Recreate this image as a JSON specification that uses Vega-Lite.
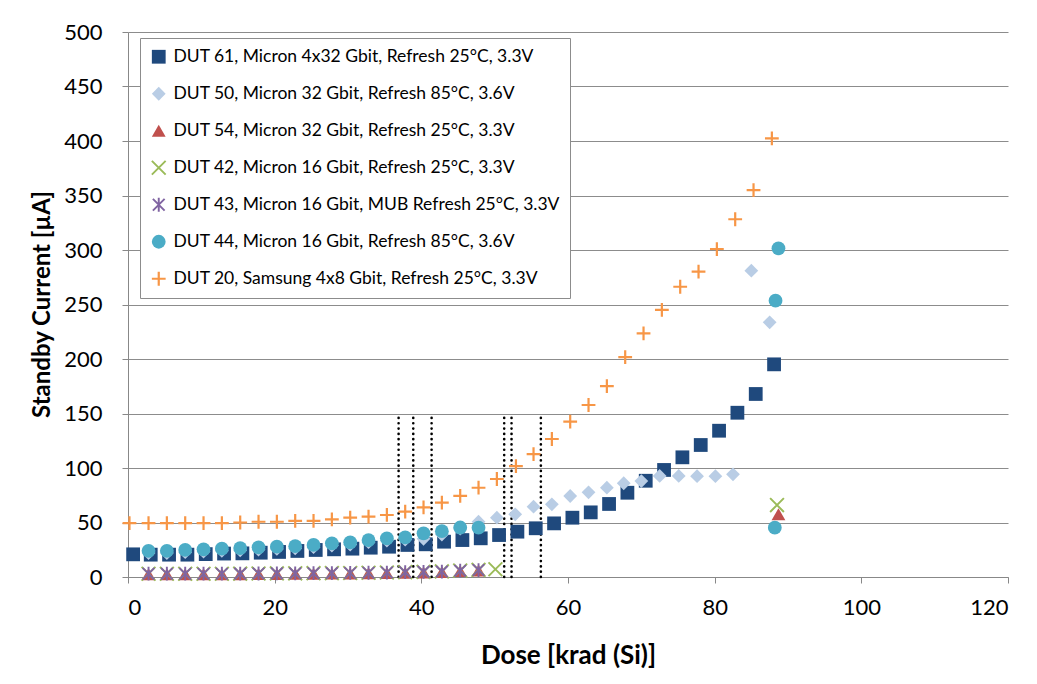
{
  "$schema": "https://vega.github.io/schema/vega-lite/v6.json",
  "width": 880,
  "height": 545,
  "autosize": {"type": "none"},
  "padding": {"left": 128, "top": 32, "right": 29, "bottom": 107},
  "background": "white",
  "config": {
    "view": {"stroke": null},
    "font": "Lato",
    "axis": {"labelFont": "Lato", "titleFont": "Lato", "labelColor": "#000", "titleColor": "#000"}
  },
  "datasets": {
    "pts": [
      {"s":"DUT 61, Micron 4x32 Gbit, Refresh 25°C, 3.3V","x":0.7,"y":20.8},
      {"s":"DUT 61, Micron 4x32 Gbit, Refresh 25°C, 3.3V","x":3.1,"y":20.5},
      {"s":"DUT 61, Micron 4x32 Gbit, Refresh 25°C, 3.3V","x":5.6,"y":20.5},
      {"s":"DUT 61, Micron 4x32 Gbit, Refresh 25°C, 3.3V","x":8.1,"y":20.5},
      {"s":"DUT 61, Micron 4x32 Gbit, Refresh 25°C, 3.3V","x":10.6,"y":21},
      {"s":"DUT 61, Micron 4x32 Gbit, Refresh 25°C, 3.3V","x":13.1,"y":21.5},
      {"s":"DUT 61, Micron 4x32 Gbit, Refresh 25°C, 3.3V","x":15.6,"y":21.7},
      {"s":"DUT 61, Micron 4x32 Gbit, Refresh 25°C, 3.3V","x":18.1,"y":22.3},
      {"s":"DUT 61, Micron 4x32 Gbit, Refresh 25°C, 3.3V","x":20.6,"y":23},
      {"s":"DUT 61, Micron 4x32 Gbit, Refresh 25°C, 3.3V","x":23.1,"y":23.9},
      {"s":"DUT 61, Micron 4x32 Gbit, Refresh 25°C, 3.3V","x":25.6,"y":24.8},
      {"s":"DUT 61, Micron 4x32 Gbit, Refresh 25°C, 3.3V","x":28.1,"y":25.4},
      {"s":"DUT 61, Micron 4x32 Gbit, Refresh 25°C, 3.3V","x":30.6,"y":26},
      {"s":"DUT 61, Micron 4x32 Gbit, Refresh 25°C, 3.3V","x":33.1,"y":26.9},
      {"s":"DUT 61, Micron 4x32 Gbit, Refresh 25°C, 3.3V","x":35.6,"y":27.8},
      {"s":"DUT 61, Micron 4x32 Gbit, Refresh 25°C, 3.3V","x":38.1,"y":29.4},
      {"s":"DUT 61, Micron 4x32 Gbit, Refresh 25°C, 3.3V","x":40.6,"y":30},
      {"s":"DUT 61, Micron 4x32 Gbit, Refresh 25°C, 3.3V","x":43.1,"y":32.4},
      {"s":"DUT 61, Micron 4x32 Gbit, Refresh 25°C, 3.3V","x":45.6,"y":33.9},
      {"s":"DUT 61, Micron 4x32 Gbit, Refresh 25°C, 3.3V","x":48.1,"y":35.5},
      {"s":"DUT 61, Micron 4x32 Gbit, Refresh 25°C, 3.3V","x":50.6,"y":38.5},
      {"s":"DUT 61, Micron 4x32 Gbit, Refresh 25°C, 3.3V","x":53.1,"y":41.6},
      {"s":"DUT 61, Micron 4x32 Gbit, Refresh 25°C, 3.3V","x":55.6,"y":44.7},
      {"s":"DUT 61, Micron 4x32 Gbit, Refresh 25°C, 3.3V","x":58.1,"y":49.2},
      {"s":"DUT 61, Micron 4x32 Gbit, Refresh 25°C, 3.3V","x":60.6,"y":54.4},
      {"s":"DUT 61, Micron 4x32 Gbit, Refresh 25°C, 3.3V","x":63.1,"y":59.3},
      {"s":"DUT 61, Micron 4x32 Gbit, Refresh 25°C, 3.3V","x":65.6,"y":67},
      {"s":"DUT 61, Micron 4x32 Gbit, Refresh 25°C, 3.3V","x":68.1,"y":77.3},
      {"s":"DUT 61, Micron 4x32 Gbit, Refresh 25°C, 3.3V","x":70.6,"y":88.3},
      {"s":"DUT 61, Micron 4x32 Gbit, Refresh 25°C, 3.3V","x":73.1,"y":98.2},
      {"s":"DUT 61, Micron 4x32 Gbit, Refresh 25°C, 3.3V","x":75.6,"y":109.8},
      {"s":"DUT 61, Micron 4x32 Gbit, Refresh 25°C, 3.3V","x":78.1,"y":121.1},
      {"s":"DUT 61, Micron 4x32 Gbit, Refresh 25°C, 3.3V","x":80.6,"y":134.2},
      {"s":"DUT 61, Micron 4x32 Gbit, Refresh 25°C, 3.3V","x":83.1,"y":150.7},
      {"s":"DUT 61, Micron 4x32 Gbit, Refresh 25°C, 3.3V","x":85.6,"y":167.9},
      {"s":"DUT 61, Micron 4x32 Gbit, Refresh 25°C, 3.3V","x":88.1,"y":195.1},

      {"s":"DUT 50, Micron 32 Gbit, Refresh 85°C, 3.6V","x":2.8,"y":22},
      {"s":"DUT 50, Micron 32 Gbit, Refresh 85°C, 3.6V","x":5.3,"y":22},
      {"s":"DUT 50, Micron 32 Gbit, Refresh 85°C, 3.6V","x":7.8,"y":22.8},
      {"s":"DUT 50, Micron 32 Gbit, Refresh 85°C, 3.6V","x":10.3,"y":23.4},
      {"s":"DUT 50, Micron 32 Gbit, Refresh 85°C, 3.6V","x":12.8,"y":24},
      {"s":"DUT 50, Micron 32 Gbit, Refresh 85°C, 3.6V","x":15.3,"y":24.5},
      {"s":"DUT 50, Micron 32 Gbit, Refresh 85°C, 3.6V","x":17.8,"y":25.2},
      {"s":"DUT 50, Micron 32 Gbit, Refresh 85°C, 3.6V","x":20.3,"y":25.8},
      {"s":"DUT 50, Micron 32 Gbit, Refresh 85°C, 3.6V","x":22.8,"y":26.3},
      {"s":"DUT 50, Micron 32 Gbit, Refresh 85°C, 3.6V","x":25.3,"y":27.4},
      {"s":"DUT 50, Micron 32 Gbit, Refresh 85°C, 3.6V","x":27.8,"y":28.9},
      {"s":"DUT 50, Micron 32 Gbit, Refresh 85°C, 3.6V","x":30.3,"y":29.8},
      {"s":"DUT 50, Micron 32 Gbit, Refresh 85°C, 3.6V","x":32.8,"y":31.9},
      {"s":"DUT 50, Micron 32 Gbit, Refresh 85°C, 3.6V","x":35.3,"y":33.5},
      {"s":"DUT 50, Micron 32 Gbit, Refresh 85°C, 3.6V","x":37.8,"y":34.4},
      {"s":"DUT 50, Micron 32 Gbit, Refresh 85°C, 3.6V","x":40.3,"y":35},
      {"s":"DUT 50, Micron 32 Gbit, Refresh 85°C, 3.6V","x":42.8,"y":39},
      {"s":"DUT 50, Micron 32 Gbit, Refresh 85°C, 3.6V","x":45.3,"y":44.5},
      {"s":"DUT 50, Micron 32 Gbit, Refresh 85°C, 3.6V","x":47.8,"y":50.7},
      {"s":"DUT 50, Micron 32 Gbit, Refresh 85°C, 3.6V","x":50.3,"y":54.4},
      {"s":"DUT 50, Micron 32 Gbit, Refresh 85°C, 3.6V","x":52.8,"y":57.5},
      {"s":"DUT 50, Micron 32 Gbit, Refresh 85°C, 3.6V","x":55.3,"y":64.5},
      {"s":"DUT 50, Micron 32 Gbit, Refresh 85°C, 3.6V","x":57.8,"y":66.7},
      {"s":"DUT 50, Micron 32 Gbit, Refresh 85°C, 3.6V","x":60.3,"y":74.3},
      {"s":"DUT 50, Micron 32 Gbit, Refresh 85°C, 3.6V","x":62.8,"y":77.7},
      {"s":"DUT 50, Micron 32 Gbit, Refresh 85°C, 3.6V","x":65.3,"y":81.9},
      {"s":"DUT 50, Micron 32 Gbit, Refresh 85°C, 3.6V","x":67.6,"y":86},
      {"s":"DUT 50, Micron 32 Gbit, Refresh 85°C, 3.6V","x":70.0,"y":88},
      {"s":"DUT 50, Micron 32 Gbit, Refresh 85°C, 3.6V","x":72.5,"y":92.7},
      {"s":"DUT 50, Micron 32 Gbit, Refresh 85°C, 3.6V","x":75.1,"y":92.7},
      {"s":"DUT 50, Micron 32 Gbit, Refresh 85°C, 3.6V","x":77.6,"y":92.5},
      {"s":"DUT 50, Micron 32 Gbit, Refresh 85°C, 3.6V","x":80.1,"y":92.5},
      {"s":"DUT 50, Micron 32 Gbit, Refresh 85°C, 3.6V","x":82.5,"y":94.2},
      {"s":"DUT 50, Micron 32 Gbit, Refresh 85°C, 3.6V","x":85.0,"y":281},
      {"s":"DUT 50, Micron 32 Gbit, Refresh 85°C, 3.6V","x":87.5,"y":233.7},

      {"s":"DUT 54, Micron 32 Gbit, Refresh 25°C, 3.3V","x":2.8,"y":2.5},
      {"s":"DUT 54, Micron 32 Gbit, Refresh 25°C, 3.3V","x":5.3,"y":2.5},
      {"s":"DUT 54, Micron 32 Gbit, Refresh 25°C, 3.3V","x":7.8,"y":2.5},
      {"s":"DUT 54, Micron 32 Gbit, Refresh 25°C, 3.3V","x":10.3,"y":2.5},
      {"s":"DUT 54, Micron 32 Gbit, Refresh 25°C, 3.3V","x":12.8,"y":2.5},
      {"s":"DUT 54, Micron 32 Gbit, Refresh 25°C, 3.3V","x":15.3,"y":2.6},
      {"s":"DUT 54, Micron 32 Gbit, Refresh 25°C, 3.3V","x":17.8,"y":2.7},
      {"s":"DUT 54, Micron 32 Gbit, Refresh 25°C, 3.3V","x":20.3,"y":2.8},
      {"s":"DUT 54, Micron 32 Gbit, Refresh 25°C, 3.3V","x":22.8,"y":2.9},
      {"s":"DUT 54, Micron 32 Gbit, Refresh 25°C, 3.3V","x":25.3,"y":3},
      {"s":"DUT 54, Micron 32 Gbit, Refresh 25°C, 3.3V","x":27.8,"y":3.1},
      {"s":"DUT 54, Micron 32 Gbit, Refresh 25°C, 3.3V","x":30.3,"y":3.2},
      {"s":"DUT 54, Micron 32 Gbit, Refresh 25°C, 3.3V","x":32.8,"y":3.4},
      {"s":"DUT 54, Micron 32 Gbit, Refresh 25°C, 3.3V","x":35.3,"y":3.6},
      {"s":"DUT 54, Micron 32 Gbit, Refresh 25°C, 3.3V","x":37.8,"y":3.9},
      {"s":"DUT 54, Micron 32 Gbit, Refresh 25°C, 3.3V","x":40.3,"y":4.2},
      {"s":"DUT 54, Micron 32 Gbit, Refresh 25°C, 3.3V","x":42.8,"y":4.6},
      {"s":"DUT 54, Micron 32 Gbit, Refresh 25°C, 3.3V","x":45.3,"y":5.4},
      {"s":"DUT 54, Micron 32 Gbit, Refresh 25°C, 3.3V","x":47.8,"y":6},
      {"s":"DUT 54, Micron 32 Gbit, Refresh 25°C, 3.3V","x":88.7,"y":57.5},

      {"s":"DUT 42, Micron 16 Gbit, Refresh 25°C, 3.3V","x":2.8,"y":3},
      {"s":"DUT 42, Micron 16 Gbit, Refresh 25°C, 3.3V","x":5.3,"y":3},
      {"s":"DUT 42, Micron 16 Gbit, Refresh 25°C, 3.3V","x":7.8,"y":3},
      {"s":"DUT 42, Micron 16 Gbit, Refresh 25°C, 3.3V","x":10.3,"y":3},
      {"s":"DUT 42, Micron 16 Gbit, Refresh 25°C, 3.3V","x":12.8,"y":3},
      {"s":"DUT 42, Micron 16 Gbit, Refresh 25°C, 3.3V","x":15.3,"y":3.1},
      {"s":"DUT 42, Micron 16 Gbit, Refresh 25°C, 3.3V","x":17.8,"y":3.2},
      {"s":"DUT 42, Micron 16 Gbit, Refresh 25°C, 3.3V","x":20.3,"y":3.3},
      {"s":"DUT 42, Micron 16 Gbit, Refresh 25°C, 3.3V","x":22.8,"y":3.4},
      {"s":"DUT 42, Micron 16 Gbit, Refresh 25°C, 3.3V","x":25.3,"y":3.5},
      {"s":"DUT 42, Micron 16 Gbit, Refresh 25°C, 3.3V","x":27.8,"y":3.6},
      {"s":"DUT 42, Micron 16 Gbit, Refresh 25°C, 3.3V","x":30.3,"y":3.7},
      {"s":"DUT 42, Micron 16 Gbit, Refresh 25°C, 3.3V","x":32.8,"y":3.9},
      {"s":"DUT 42, Micron 16 Gbit, Refresh 25°C, 3.3V","x":35.3,"y":4.1},
      {"s":"DUT 42, Micron 16 Gbit, Refresh 25°C, 3.3V","x":37.8,"y":4.4},
      {"s":"DUT 42, Micron 16 Gbit, Refresh 25°C, 3.3V","x":40.3,"y":4.7},
      {"s":"DUT 42, Micron 16 Gbit, Refresh 25°C, 3.3V","x":42.8,"y":5.1},
      {"s":"DUT 42, Micron 16 Gbit, Refresh 25°C, 3.3V","x":45.3,"y":5.9},
      {"s":"DUT 42, Micron 16 Gbit, Refresh 25°C, 3.3V","x":47.8,"y":6.5},
      {"s":"DUT 42, Micron 16 Gbit, Refresh 25°C, 3.3V","x":50.1,"y":7.1},
      {"s":"DUT 42, Micron 16 Gbit, Refresh 25°C, 3.3V","x":88.5,"y":66},

      {"s":"DUT 43, Micron 16 Gbit, MUB Refresh 25°C, 3.3V","x":2.8,"y":3},
      {"s":"DUT 43, Micron 16 Gbit, MUB Refresh 25°C, 3.3V","x":5.3,"y":3},
      {"s":"DUT 43, Micron 16 Gbit, MUB Refresh 25°C, 3.3V","x":7.8,"y":3},
      {"s":"DUT 43, Micron 16 Gbit, MUB Refresh 25°C, 3.3V","x":10.3,"y":3},
      {"s":"DUT 43, Micron 16 Gbit, MUB Refresh 25°C, 3.3V","x":12.8,"y":3},
      {"s":"DUT 43, Micron 16 Gbit, MUB Refresh 25°C, 3.3V","x":15.3,"y":3.1},
      {"s":"DUT 43, Micron 16 Gbit, MUB Refresh 25°C, 3.3V","x":17.8,"y":3.2},
      {"s":"DUT 43, Micron 16 Gbit, MUB Refresh 25°C, 3.3V","x":20.3,"y":3.3},
      {"s":"DUT 43, Micron 16 Gbit, MUB Refresh 25°C, 3.3V","x":22.8,"y":3.4},
      {"s":"DUT 43, Micron 16 Gbit, MUB Refresh 25°C, 3.3V","x":25.3,"y":3.5},
      {"s":"DUT 43, Micron 16 Gbit, MUB Refresh 25°C, 3.3V","x":27.8,"y":3.6},
      {"s":"DUT 43, Micron 16 Gbit, MUB Refresh 25°C, 3.3V","x":30.3,"y":3.7},
      {"s":"DUT 43, Micron 16 Gbit, MUB Refresh 25°C, 3.3V","x":32.8,"y":3.9},
      {"s":"DUT 43, Micron 16 Gbit, MUB Refresh 25°C, 3.3V","x":35.3,"y":4.1},
      {"s":"DUT 43, Micron 16 Gbit, MUB Refresh 25°C, 3.3V","x":37.8,"y":4.4},
      {"s":"DUT 43, Micron 16 Gbit, MUB Refresh 25°C, 3.3V","x":40.3,"y":4.7},
      {"s":"DUT 43, Micron 16 Gbit, MUB Refresh 25°C, 3.3V","x":42.8,"y":5},
      {"s":"DUT 43, Micron 16 Gbit, MUB Refresh 25°C, 3.3V","x":45.3,"y":5.8},
      {"s":"DUT 43, Micron 16 Gbit, MUB Refresh 25°C, 3.3V","x":47.8,"y":6.4},

      {"s":"DUT 44, Micron 16 Gbit, Refresh 85°C, 3.6V","x":2.8,"y":24},
      {"s":"DUT 44, Micron 16 Gbit, Refresh 85°C, 3.6V","x":5.3,"y":24},
      {"s":"DUT 44, Micron 16 Gbit, Refresh 85°C, 3.6V","x":7.8,"y":24.8},
      {"s":"DUT 44, Micron 16 Gbit, Refresh 85°C, 3.6V","x":10.3,"y":25.4},
      {"s":"DUT 44, Micron 16 Gbit, Refresh 85°C, 3.6V","x":12.8,"y":26},
      {"s":"DUT 44, Micron 16 Gbit, Refresh 85°C, 3.6V","x":15.3,"y":26.5},
      {"s":"DUT 44, Micron 16 Gbit, Refresh 85°C, 3.6V","x":17.8,"y":27.2},
      {"s":"DUT 44, Micron 16 Gbit, Refresh 85°C, 3.6V","x":20.3,"y":27.8},
      {"s":"DUT 44, Micron 16 Gbit, Refresh 85°C, 3.6V","x":22.8,"y":28.3},
      {"s":"DUT 44, Micron 16 Gbit, Refresh 85°C, 3.6V","x":25.3,"y":29.4},
      {"s":"DUT 44, Micron 16 Gbit, Refresh 85°C, 3.6V","x":27.8,"y":30.9},
      {"s":"DUT 44, Micron 16 Gbit, Refresh 85°C, 3.6V","x":30.3,"y":31.8},
      {"s":"DUT 44, Micron 16 Gbit, Refresh 85°C, 3.6V","x":32.8,"y":33.9},
      {"s":"DUT 44, Micron 16 Gbit, Refresh 85°C, 3.6V","x":35.3,"y":35.5},
      {"s":"DUT 44, Micron 16 Gbit, Refresh 85°C, 3.6V","x":37.8,"y":36.4},
      {"s":"DUT 44, Micron 16 Gbit, Refresh 85°C, 3.6V","x":40.3,"y":40.1},
      {"s":"DUT 44, Micron 16 Gbit, Refresh 85°C, 3.6V","x":42.8,"y":42},
      {"s":"DUT 44, Micron 16 Gbit, Refresh 85°C, 3.6V","x":45.3,"y":45.4},
      {"s":"DUT 44, Micron 16 Gbit, Refresh 85°C, 3.6V","x":47.8,"y":45.2},
      {"s":"DUT 44, Micron 16 Gbit, Refresh 85°C, 3.6V","x":88.2,"y":45.2},
      {"s":"DUT 44, Micron 16 Gbit, Refresh 85°C, 3.6V","x":88.3,"y":253.5},
      {"s":"DUT 44, Micron 16 Gbit, Refresh 85°C, 3.6V","x":88.7,"y":301.5},

      {"s":"DUT 20, Samsung 4x8 Gbit, Refresh 25°C, 3.3V","x":0.2,"y":49.5},
      {"s":"DUT 20, Samsung 4x8 Gbit, Refresh 25°C, 3.3V","x":2.8,"y":49.5},
      {"s":"DUT 20, Samsung 4x8 Gbit, Refresh 25°C, 3.3V","x":5.3,"y":49.5},
      {"s":"DUT 20, Samsung 4x8 Gbit, Refresh 25°C, 3.3V","x":7.8,"y":49.5},
      {"s":"DUT 20, Samsung 4x8 Gbit, Refresh 25°C, 3.3V","x":10.3,"y":49.5},
      {"s":"DUT 20, Samsung 4x8 Gbit, Refresh 25°C, 3.3V","x":12.8,"y":49.5},
      {"s":"DUT 20, Samsung 4x8 Gbit, Refresh 25°C, 3.3V","x":15.3,"y":50},
      {"s":"DUT 20, Samsung 4x8 Gbit, Refresh 25°C, 3.3V","x":17.8,"y":50.7},
      {"s":"DUT 20, Samsung 4x8 Gbit, Refresh 25°C, 3.3V","x":20.3,"y":50.7},
      {"s":"DUT 20, Samsung 4x8 Gbit, Refresh 25°C, 3.3V","x":22.8,"y":51.4},
      {"s":"DUT 20, Samsung 4x8 Gbit, Refresh 25°C, 3.3V","x":25.3,"y":51.4},
      {"s":"DUT 20, Samsung 4x8 Gbit, Refresh 25°C, 3.3V","x":27.8,"y":52.9},
      {"s":"DUT 20, Samsung 4x8 Gbit, Refresh 25°C, 3.3V","x":30.3,"y":54.4},
      {"s":"DUT 20, Samsung 4x8 Gbit, Refresh 25°C, 3.3V","x":32.8,"y":55.3},
      {"s":"DUT 20, Samsung 4x8 Gbit, Refresh 25°C, 3.3V","x":35.3,"y":56.9},
      {"s":"DUT 20, Samsung 4x8 Gbit, Refresh 25°C, 3.3V","x":37.8,"y":59.9},
      {"s":"DUT 20, Samsung 4x8 Gbit, Refresh 25°C, 3.3V","x":40.3,"y":63.9},
      {"s":"DUT 20, Samsung 4x8 Gbit, Refresh 25°C, 3.3V","x":42.8,"y":68.2},
      {"s":"DUT 20, Samsung 4x8 Gbit, Refresh 25°C, 3.3V","x":45.3,"y":74.5},
      {"s":"DUT 20, Samsung 4x8 Gbit, Refresh 25°C, 3.3V","x":47.8,"y":81.9},
      {"s":"DUT 20, Samsung 4x8 Gbit, Refresh 25°C, 3.3V","x":50.3,"y":89.9},
      {"s":"DUT 20, Samsung 4x8 Gbit, Refresh 25°C, 3.3V","x":52.9,"y":101.8},
      {"s":"DUT 20, Samsung 4x8 Gbit, Refresh 25°C, 3.3V","x":55.3,"y":112.8},
      {"s":"DUT 20, Samsung 4x8 Gbit, Refresh 25°C, 3.3V","x":57.8,"y":126.6},
      {"s":"DUT 20, Samsung 4x8 Gbit, Refresh 25°C, 3.3V","x":60.3,"y":142.5},
      {"s":"DUT 20, Samsung 4x8 Gbit, Refresh 25°C, 3.3V","x":62.8,"y":157.8},
      {"s":"DUT 20, Samsung 4x8 Gbit, Refresh 25°C, 3.3V","x":65.3,"y":175.2},
      {"s":"DUT 20, Samsung 4x8 Gbit, Refresh 25°C, 3.3V","x":67.8,"y":201.8},
      {"s":"DUT 20, Samsung 4x8 Gbit, Refresh 25°C, 3.3V","x":70.3,"y":223.6},
      {"s":"DUT 20, Samsung 4x8 Gbit, Refresh 25°C, 3.3V","x":72.8,"y":245},
      {"s":"DUT 20, Samsung 4x8 Gbit, Refresh 25°C, 3.3V","x":75.3,"y":266.3},
      {"s":"DUT 20, Samsung 4x8 Gbit, Refresh 25°C, 3.3V","x":77.8,"y":280.1},
      {"s":"DUT 20, Samsung 4x8 Gbit, Refresh 25°C, 3.3V","x":80.3,"y":300.9},
      {"s":"DUT 20, Samsung 4x8 Gbit, Refresh 25°C, 3.3V","x":82.8,"y":328.2},
      {"s":"DUT 20, Samsung 4x8 Gbit, Refresh 25°C, 3.3V","x":85.3,"y":355},
      {"s":"DUT 20, Samsung 4x8 Gbit, Refresh 25°C, 3.3V","x":87.8,"y":402.5}
    ],
    "lines": [
      {"x": 36.9}, {"x": 38.9}, {"x": 41.4}, {"x": 51.3}, {"x": 52.3}, {"x": 56.3}
    ]
  },
  "layer": [
    {
      "data": {"name": "lines"},
      "mark": {"type": "rule", "color": "#000", "strokeWidth": 2.6, "strokeCap": "round", "strokeDash": [0.1, 5.2]},
      "encoding": {
        "x": {"field": "x", "type": "quantitative", "scale": {"domain": [0, 120], "nice": false}},
        "y": {"datum": 0, "type": "quantitative", "scale": {"domain": [0, 500], "nice": false}},
        "y2": {"datum": 147}
      }
    },
    {
      "data": {"name": "pts"},
      "mark": {"type": "point", "filled": true, "opacity": 1, "strokeWidth": 0},
      "encoding": {
        "x": {
          "field": "x", "type": "quantitative",
          "scale": {"domain": [0, 120], "nice": false},
          "axis": {
            "title": "Dose [krad (Si)]", "values": [0, 20, 40, 60, 80, 100, 120],
            "grid": false, "domainColor": "#888", "tickColor": "#888", "tickSize": 6,
            "labelFontSize": 22, "labelPadding": 14, "titleFontSize": 26, "titleFontWeight": "bold",
            "titleX": 440, "titleY": 78, "titleBaseline": "middle", "titleAlign": "center"
          }
        },
        "y": {
          "field": "y", "type": "quantitative",
          "scale": {"domain": [0, 500], "nice": false},
          "axis": {
            "title": "Standby Current [µA]", "values": [0, 50, 100, 150, 200, 250, 300, 350, 400, 450, 500],
            "grid": true, "gridColor": "#8c8c8c", "gridWidth": 1,
            "domainColor": "#888", "tickColor": "#888", "tickSize": 6,
            "labelFontSize": 22, "labelPadding": 20, "titleFontSize": 24, "titleFontWeight": "bold",
            "titleX": -86, "titleY": 272, "titleAngle": 270, "titleBaseline": "middle", "titleAlign": "center"
          }
        },
        "color": {
          "field": "s", "type": "nominal",
          "scale": {
            "domain": [
              "DUT 61, Micron 4x32 Gbit, Refresh 25°C, 3.3V",
              "DUT 50, Micron 32 Gbit, Refresh 85°C, 3.6V",
              "DUT 54, Micron 32 Gbit, Refresh 25°C, 3.3V",
              "DUT 42, Micron 16 Gbit, Refresh 25°C, 3.3V",
              "DUT 43, Micron 16 Gbit, MUB Refresh 25°C, 3.3V",
              "DUT 44, Micron 16 Gbit, Refresh 85°C, 3.6V",
              "DUT 20, Samsung 4x8 Gbit, Refresh 25°C, 3.3V"
            ],
            "range": ["#1F497D", "#B9CDE5", "#C0504D", "#9BBB59", "#8064A2", "#4BACC6", "#F79646"]
          },
          "legend": {
            "title": null, "orient": "none", "legendX": 12, "legendY": 6,
            "strokeColor": "#8c8c8c", "padding": 10, "fillColor": "white",
            "labelFont": "Lato", "labelFontSize": 17.5, "labelColor": "#000", "labelLimit": 600,
            "symbolSize": 130, "symbolStrokeWidth": 0, "rowPadding": 18, "labelOffset": 6
          }
        },
        "shape": {
          "field": "s", "type": "nominal",
          "scale": {
            "domain": [
              "DUT 61, Micron 4x32 Gbit, Refresh 25°C, 3.3V",
              "DUT 50, Micron 32 Gbit, Refresh 85°C, 3.6V",
              "DUT 54, Micron 32 Gbit, Refresh 25°C, 3.3V",
              "DUT 42, Micron 16 Gbit, Refresh 25°C, 3.3V",
              "DUT 43, Micron 16 Gbit, MUB Refresh 25°C, 3.3V",
              "DUT 44, Micron 16 Gbit, Refresh 85°C, 3.6V",
              "DUT 20, Samsung 4x8 Gbit, Refresh 25°C, 3.3V"
            ],
            "range": [
              "square", "diamond", "triangle-up",
              "M-1.1,-0.9L0.9,1.1L1.1,0.9L-0.9,-1.1ZM-0.9,1.1L1.1,-0.9L0.9,-1.1L-1.1,0.9Z",
              "M-0.95,-0.75L0.75,0.95L0.95,0.75L-0.75,-0.95ZM-0.75,0.95L0.95,-0.75L0.75,-0.95L-0.95,0.75ZM-0.14,-1L-0.14,1L0.14,1L0.14,-1Z",
              "circle",
              "M-1,-0.16L-0.16,-0.16L-0.16,-1L0.16,-1L0.16,-0.16L1,-0.16L1,0.16L0.16,0.16L0.16,1L-0.16,1L-0.16,0.16L-1,0.16Z"
            ]
          }
        },
        "size": {
          "field": "s", "type": "nominal", "legend": null,
          "scale": {
            "domain": [
              "DUT 61, Micron 4x32 Gbit, Refresh 25°C, 3.3V",
              "DUT 50, Micron 32 Gbit, Refresh 85°C, 3.6V",
              "DUT 54, Micron 32 Gbit, Refresh 25°C, 3.3V",
              "DUT 42, Micron 16 Gbit, Refresh 25°C, 3.3V",
              "DUT 43, Micron 16 Gbit, MUB Refresh 25°C, 3.3V",
              "DUT 44, Micron 16 Gbit, Refresh 85°C, 3.6V",
              "DUT 20, Samsung 4x8 Gbit, Refresh 25°C, 3.3V"
            ],
            "range": [190, 190, 170, 150, 150, 230, 200]
          }
        }
      }
    }
  ]
}
